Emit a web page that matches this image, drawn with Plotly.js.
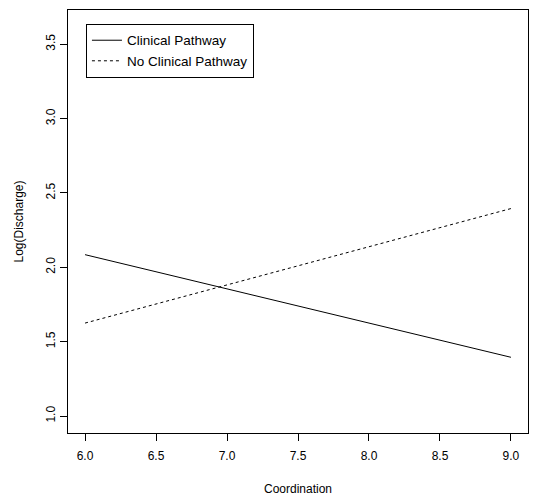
<!DOCTYPE html>
<html><head><meta charset="utf-8">
<script src="https://cdn.plot.ly/plotly-3.0.1.min.js"></script>
<style>body{margin:0;background:#fff}#chart{width:536px;height:496px}</style>
</head><body><div id="chart"></div>
<script>
var coordination = [6.0, 9.0];
var clinicalPathway = [2.085, 1.395];
var noClinicalPathway = [1.625, 2.395];
var xTicks = [6.0, 6.5, 7.0, 7.5, 8.0, 8.5, 9.0];
var yTicks = [1.0, 1.5, 2.0, 2.5, 3.0, 3.5];

var font = {family: 'Liberation Sans, Arial, sans-serif', size: 12, color: '#000'};
var legendFont = {family: 'Liberation Sans, Arial, sans-serif', size: 13.5, color: '#000'};
var traces = [
  {x: coordination, y: clinicalPathway, mode: 'lines', name: 'Clinical Pathway',
   line: {color: '#000', width: 1, dash: 'solid'}},
  {x: coordination, y: noClinicalPathway, mode: 'lines', name: 'No Clinical Pathway',
   line: {color: '#000', width: 1, dash: '3px,3px'}}
];
var layout = {
  width: 536, height: 496,
  margin: {l: 68, r: 8, t: 10, b: 63},
  paper_bgcolor: '#fff', plot_bgcolor: '#fff',
  font: font,
  showlegend: true,
  legend: {x: 0.039, y: 0.967, xanchor: 'left', yanchor: 'top',
           bordercolor: '#000', borderwidth: 1, bgcolor: '#fff',
           font: legendFont, tracegroupgap: 0, itemwidth: 30},
  xaxis: {range: [5.88, 9.12], tickvals: xTicks, tickformat: '.1f',
          showgrid: false, zeroline: false, showline: true, linecolor: '#000', linewidth: 1,
          mirror: true, ticks: 'outside', ticklen: 7, tickcolor: '#000', ticklabelstandoff: 5,
          title: {text: 'Coordination', font: font, standoff: 23}},
  yaxis: {range: [0.886, 3.73], tickvals: yTicks, tickformat: '.1f', tickangle: -90,
          showgrid: false, zeroline: false, showline: true, linecolor: '#000', linewidth: 1,
          mirror: true, ticks: 'outside', ticklen: 7, tickcolor: '#000',
          title: {text: 'Log(Discharge)', font: font, standoff: 18}}
};
Plotly.newPlot('chart', traces, layout, {displayModeBar: false, staticPlot: true});
</script></body></html>
